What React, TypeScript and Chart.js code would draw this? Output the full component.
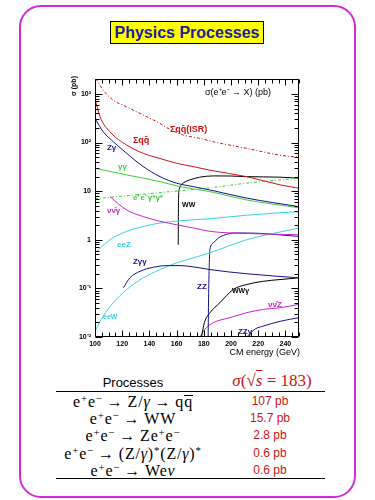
import React, { useEffect, useRef } from "react";
import { Chart, registerables } from "chart.js";

Chart.register(...registerables);

// ---------- axis ranges & ticks ----------
const E_MIN = 100;
const E_MAX = 250;
const SIGMA_MIN = 0.01;
const SIGMA_MAX = 2030;
const xTickValues = [100, 120, 140, 160, 180, 200, 220, 240];
const yTickValues = [0.01, 0.1, 1, 10, 100, 1000];
const yTickLabels = ["10⁻²", "10⁻¹", "1", "10", "10²", "10³"];

// ---------- cross sections [E (GeV), sigma (pb)] ----------
const qqIsr = [[100.7, 2070], [106.1, 1190], [113.5, 743], [123.3, 542], [135.5, 368], [147.8, 247], [155.1, 186], [164.9, 143], [177.1, 122], [186.9, 104], [211.5, 76], [236, 55], [250, 50]];
const qq = [[100, 805], [103.7, 338], [111, 166], [123.3, 89], [135.5, 60], [147.8, 47], [160, 37.5], [172.3, 32], [184.5, 27], [211.5, 19.9], [236, 13.5], [250, 11.5]];
const zGamma = [[100, 313], [106.1, 166], [113.5, 104], [123.3, 60], [135.5, 32], [147.8, 19.9], [160, 14.6], [172.3, 12.4], [184.5, 10.6], [211.5, 7.2], [250, 4.8]];
const gammaGamma = [[100, 29.6], [123.3, 21.6], [147.8, 15.7], [162.5, 12.4], [184.5, 9.8], [211.5, 6.6], [250, 4.55]];
const eeGammaGamma = [[100, 6.95], [137.5, 8.8], [184.5, 11.7], [211.5, 14.6], [250, 18.5]];
const nunuGamma = [[111, 7.7], [123.3, 4.1], [135.5, 3.0], [147.8, 2.4], [160, 2.04], [172.3, 1.75], [184.5, 1.49], [211.5, 1.35], [250, 1.27]];
const eeZ = [[100, 0.537], [111, 1.0], [123.3, 1.49], [135.5, 1.88], [147.8, 2.21], [172.3, 2.58], [184.5, 2.71], [211.5, 3.2], [250, 3.8]];
const zGammaGamma = [[120.8, 0.103], [125.7, 0.165], [133.1, 0.225], [142.9, 0.272], [152.7, 0.294], [162.5, 0.294], [177.2, 0.264], [184.5, 0.244], [211.5, 0.2], [250, 0.165]];
const eeW = [[100, 0.0133], [106.1, 0.027], [113.5, 0.051], [123.3, 0.095], [135.5, 0.165], [147.8, 0.244], [160, 0.335], [172.3, 0.424], [184.5, 0.54], [211.5, 1.0], [250, 1.75]];
const ww = [[161.2, 0.79], [161.3, 3], [161.5, 8], [162, 11], [163, 13], [165, 14.8], [167.5, 16.2], [170, 17.2], [177, 19.4], [187, 20.6], [200, 20.5], [211.5, 19.9], [236, 19.4], [250, 18.5]];
const zz = [[183.2, 0.01], [183.5, 0.06], [184, 0.3], [184.5, 0.63], [187, 0.86], [190, 1.05], [194.3, 1.23], [204, 1.38], [220, 1.36], [235, 1.27], [250, 1.17]];
const wwGamma = [[178.3, 0.01], [180.5, 0.02], [184.6, 0.0316], [191.9, 0.051], [201.7, 0.095], [211.5, 0.12], [223.8, 0.14], [236, 0.152], [250, 0.165]];
const nunuZ = [[177.2, 0.01], [180.9, 0.0145], [187, 0.0197], [199.3, 0.025], [211.5, 0.0316], [223.8, 0.037], [236, 0.04], [250, 0.047]];
const zzGamma = [[211.5, 0.01], [217.6, 0.0145], [223.8, 0.0168], [236, 0.021], [250, 0.025]];

// ---------- table ----------
const tableValues = ["107 pb", "15.7 pb", "2.8 pb", "0.6 pb", "0.6 pb"];

// ---------- styles ----------
const RED = "#cc1414";
const NAVY = "#14148c";
const GREEN = "#3ccc3c";
const MAGENTA = "#cc22cc";
const CYAN = "#38d4dc";
const DASHDOT = [3, 2, 1, 2];

const seriesDefs = [
  { data: qqIsr, color: RED, dash: DASHDOT },
  { data: qq, color: RED, dash: [] },
  { data: zGamma, color: NAVY, dash: [] },
  { data: gammaGamma, color: GREEN, dash: [] },
  { data: eeGammaGamma, color: GREEN, dash: DASHDOT },
  { data: nunuGamma, color: MAGENTA, dash: [] },
  { data: eeZ, color: CYAN, dash: [] },
  { data: zGammaGamma, color: NAVY, dash: [] },
  { data: eeW, color: CYAN, dash: [] },
  { data: ww, color: "#000", dash: [] },
  { data: zz, color: NAVY, dash: [] },
  { data: wwGamma, color: "#000", dash: [] },
  { data: nunuZ, color: MAGENTA, dash: [] },
  { data: zzGamma, color: NAVY, dash: [] },
];

// curve labels anchored in data coordinates (left edge, vertical middle)
const curveLabels = [
  { text: "Σqq̄(ISR)", e: 155.1, s: 189, color: RED, size: 9 },
  { text: "Σqq̄", e: 127.9, s: 112, color: RED, size: 9 },
  { text: "Zγ", e: 108.8, s: 77, color: NAVY, size: 8 },
  { text: "γγ", e: 116.9, s: 31.5, color: GREEN, size: 8 },
  { text: "e⁺e⁻γ*γ*", e: 127.9, s: 7.3, color: GREEN, size: 8 },
  { text: "νν̄γ", e: 108.8, s: 3.95, color: MAGENTA, size: 8 },
  { text: "WW", e: 164, s: 5.2, color: "#000", size: 7 },
  { text: "eeZ", e: 116.2, s: 0.79, color: CYAN, size: 8 },
  { text: "Zγγ", e: 127.9, s: 0.356, color: NAVY, size: 8 },
  { text: "ZZ", e: 175, s: 0.109, color: NAVY, size: 8 },
  { text: "eeW", e: 105.9, s: 0.0254, color: CYAN, size: 7 },
  { text: "WWγ", e: 200.7, s: 0.0863, color: "#000", size: 7 },
  { text: "νν̄Z", e: 227.2, s: 0.0468, color: MAGENTA, size: 8 },
  { text: "ZZγ", e: 205.1, s: 0.0131, color: NAVY, size: 8 },
];

const framePlugin = {
  id: "frame",
  afterDatasetsDraw(chart: any) {
    const { ctx, chartArea: a, scales } = chart;
    const xs = scales.x;
    const ys = scales.y;
    ctx.save();
    ctx.strokeStyle = "#000";
    ctx.lineWidth = 1;
    ctx.beginPath();
    const L = Math.round(a.left) + 0.5;
    const R = Math.round(a.right) - 0.5;
    const T = Math.round(a.top) + 0.5;
    const B = Math.round(a.bottom) - 0.5;
    ctx.rect(L, T, R - L, B - T);
    for (let e = E_MIN; e <= E_MAX; e += 5) {
      const px = Math.round(xs.getPixelForValue(e)) + 0.5;
      const len = e % 20 === 0 ? 6 : 4;
      ctx.moveTo(px, B);
      ctx.lineTo(px, B - len);
      ctx.moveTo(px, T);
      ctx.lineTo(px, T + len);
    }
    for (let d = -2; d <= 3; d++) {
      for (let m = 1; m <= 9; m++) {
        const v = m * Math.pow(10, d);
        if (v > SIGMA_MAX) break;
        const py = Math.round(ys.getPixelForValue(v)) + 0.5;
        const len = m === 1 ? 7 : 4;
        ctx.moveTo(L, py);
        ctx.lineTo(L + len, py);
        ctx.moveTo(R, py);
        ctx.lineTo(R - len, py);
      }
    }
    ctx.stroke();

    ctx.textBaseline = "middle";
    ctx.textAlign = "left";
    for (const lb of curveLabels) {
      ctx.fillStyle = lb.color;
      ctx.font = `bold ${lb.size}px 'Liberation Sans', Arial, sans-serif`;
      ctx.fillText(lb.text, xs.getPixelForValue(lb.e), ys.getPixelForValue(lb.s));
    }
    ctx.fillStyle = "#000";
    ctx.font = "9px 'Liberation Sans', Arial, sans-serif";
    ctx.fillText("σ(e⁺e⁻ → X) (pb)", xs.getPixelForValue(180.9), ys.getPixelForValue(1084));

    ctx.textAlign = "right";
    ctx.fillText("CM energy (GeV)", a.right + 1, a.bottom + 16);

    ctx.translate(a.left - 21, a.top + 7);
    ctx.rotate(-Math.PI / 2);
    ctx.textAlign = "center";
    ctx.font = "bold 7px 'Liberation Sans', Arial, sans-serif";
    ctx.fillText("σ (pb)", 0, 0);
    ctx.restore();
  },
};

function PhysicsChart() {
  const ref = useRef<HTMLCanvasElement>(null);
  useEffect(() => {
    const tickFont = { size: 7, weight: "bold" as const, family: "'Liberation Sans', Arial, sans-serif" };
    const chart = new Chart(ref.current!, {
      type: "line",
      data: {
        datasets: seriesDefs.map((s) => ({
          data: s.data.map(([e, v]) => ({ x: e, y: v })),
          borderColor: s.color,
          borderDash: s.dash,
          borderWidth: 1,
          pointRadius: 0,
          fill: false,
          cubicInterpolationMode: "monotone" as const,
        })),
      },
      options: {
        animation: false,
        responsive: false,
        maintainAspectRatio: false,
        layout: { padding: { left: 0, top: 9, right: 6, bottom: 0 } },
        plugins: { legend: { display: false }, tooltip: { enabled: false } },
        scales: {
          x: {
            type: "linear",
            min: E_MIN,
            max: E_MAX,
            grid: { display: false, drawTicks: false },
            border: { display: false },
            ticks: { font: tickFont, color: "#000", padding: 3, autoSkip: false, maxRotation: 0, callback: (v: any) => String(v) },
            afterBuildTicks: (s: any) => {
              s.ticks = xTickValues.map((v) => ({ value: v }));
            },
            afterFit: (s: any) => {
              s.height = 23;
            },
          },
          y: {
            type: "logarithmic",
            min: SIGMA_MIN,
            max: SIGMA_MAX,
            grid: { display: false, drawTicks: false },
            border: { display: false },
            ticks: {
              font: tickFont,
              color: "#000",
              padding: 4,
              autoSkip: false,
              callback: (_v: any, i: number) => yTickLabels[i],
            },
            afterBuildTicks: (s: any) => {
              s.ticks = yTickValues.map((v) => ({ value: v }));
            },
            afterFit: (s: any) => {
              s.width = 40;
            },
          },
        },
      },
      plugins: [framePlugin],
    } as any);
    return () => chart.destroy();
  }, []);
  return (
    <canvas
      ref={ref}
      width={250}
      height={290}
      style={{ position: "absolute", left: 55, top: 70, width: 250, height: 290 }}
    />
  );
}

const serif = "'Liberation Serif', 'Times New Roman', serif";
const sans = "'Liberation Sans', Arial, sans-serif";

const supStyle: React.CSSProperties = { fontSize: "0.68em", verticalAlign: "baseline", position: "relative", top: "-0.45em", lineHeight: 0 };
const Sup = ({ c }: { c: string }) => <span style={supStyle}>{c}</span>;
const EE = () => (
  <>
    e<Sup c="+" />e<Sup c="−" />
  </>
);
const Bar = ({ c }: { c: string }) => (
  <span style={{ display: "inline-block", borderTop: "1px solid #000", lineHeight: "11px", height: 12, verticalAlign: "baseline" }}>{c}</span>
);
const Arrow = () => <span style={{ margin: "0 4px" }}>→</span>;

const processRows = [
  <><EE /><Arrow />Z/<i>γ</i><Arrow />q<Bar c="q" /></>,
  <><EE /><Arrow />WW</>,
  <><EE /><Arrow />Ze<Sup c="+" />e<Sup c="−" /></>,
  <><EE /><Arrow />(Z/<i>γ</i>)<Sup c="*" />(Z/<i>γ</i>)<Sup c="*" /></>,
  <><EE /><Arrow />We<i>ν</i></>,
];
const rowCenters = [401.7, 418.5, 435.5, 453, 470];

export default function App() {
  return (
    <div style={{ position: "absolute", left: 0, top: 0, width: 375, height: 500, background: "#fff", overflow: "hidden", fontFamily: sans }}>
      <div
        style={{
          position: "absolute",
          left: 19,
          top: 5,
          width: 337,
          height: 493,
          boxSizing: "border-box",
          border: "2px solid #d42ad4",
          borderRadius: 22,
        }}
      />
      <div
        style={{
          position: "absolute",
          left: 110,
          top: 21,
          width: 154,
          height: 23,
          boxSizing: "border-box",
          border: "1px solid #000",
          background: "#ffff00",
          color: "#1c1c9c",
          fontWeight: "bold",
          fontSize: 16,
          lineHeight: "21px",
          textAlign: "center",
          fontFamily: sans,
        }}
      >
        Physics Processes
      </div>
      <PhysicsChart />
      <div style={{ position: "absolute", left: 33, width: 200, top: 374, lineHeight: "17px", textAlign: "center", fontSize: 13, fontFamily: sans }}>
        Processes
      </div>
      <div style={{ position: "absolute", left: 212, width: 120, top: 372, lineHeight: "18px", textAlign: "center", fontSize: 17, fontFamily: serif, color: RED, whiteSpace: "nowrap" }}>
        <i>σ</i>(√<span style={{ textDecoration: "overline" }}><i>s</i></span> = 183)
      </div>
      <div style={{ position: "absolute", left: 56, top: 391, width: 269, borderTop: "1px solid #000" }} />
      {processRows.map((r, i) => (
        <div key={"p" + i} style={{ position: "absolute", left: 3, width: 260, top: rowCenters[i] - 8.5, lineHeight: "17px", height: 17, textAlign: "center", fontSize: 16, letterSpacing: "0.8px", fontFamily: serif, whiteSpace: "nowrap" }}>
          {r}
        </div>
      ))}
      {tableValues.map((v, i) => (
        <div key={"v" + i} style={{ position: "absolute", left: 220, width: 100, top: rowCenters[i] - 8.5, lineHeight: "17px", height: 17, textAlign: "center", fontSize: 12, fontFamily: sans, color: RED }}>
          {v}
        </div>
      ))}
      <div style={{ position: "absolute", left: 56, top: 478, width: 269, borderTop: "1px solid #000" }} />
    </div>
  );
}
